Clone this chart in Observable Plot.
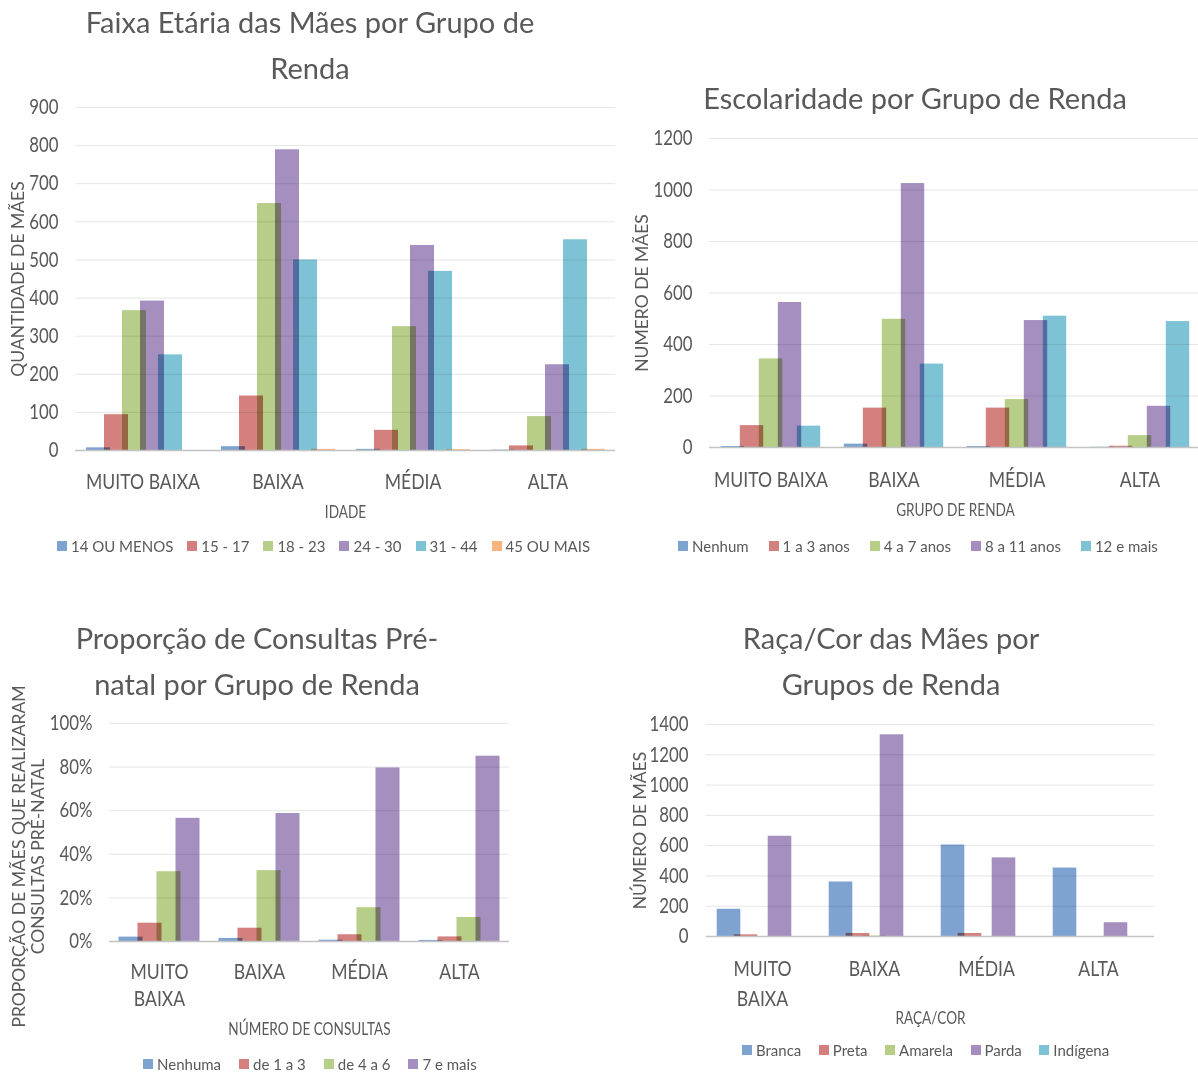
<!DOCTYPE html>
<html><head><meta charset="utf-8">
<script src="https://cdn.jsdelivr.net/npm/d3@7"></script>
<script src="https://cdn.jsdelivr.net/npm/@observablehq/plot@0.6"></script>
<style>
body{margin:0;background:#fff;}
#page{position:relative;width:1198px;height:1075px;overflow:hidden;font-family:Lato,"Open Sans",sans-serif;color:#595959;}
.title{position:absolute;text-align:center;font-size:29px;line-height:46px;color:#595959;white-space:nowrap;width:600px;}
.legend{position:absolute;display:flex;align-items:center;font-size:15px;line-height:20px;white-space:nowrap;color:#595959;}
.legend .it{display:flex;align-items:center;}
.legend .sw{display:inline-block;width:10px;height:10px;margin-right:4px;}
.chart{position:absolute;}
</style></head><body><div id="page"></div>
<script>
// ---- shared categories
const grupos = ["MUITO BAIXA", "BAIXA", "MÉDIA", "ALTA"];
const gruposUmaLinha = ["MUITO BAIXA", "BAIXA", "MÉDIA", "ALTA"];
const gruposDuasLinhas = ["MUITO\nBAIXA", "BAIXA", "MÉDIA", "ALTA"];

// ---- Chart 1: Faixa etária
const faixas = ["14 OU MENOS", "15 - 17", "18 - 23", "24 - 30", "31 - 44", "45 OU MAIS"];
const faixa14ouMenos = [7, 10, 3, 1];
const faixa15a17 = [94, 143, 53, 12];
const faixa18a23 = [367, 648, 325, 89];
const faixa24a30 = [392, 789, 538, 225];
const faixa31a44 = [251, 500, 470, 553];
const faixa45ouMais = [0, 3, 2, 3];
const ticksIdade = [0, 100, 200, 300, 400, 500, 600, 700, 800, 900];

// ---- Chart 2: Escolaridade
const escolaridades = ["Nenhum", "1 a 3 anos", "4 a 7 anos", "8 a 11 anos", "12 e mais"];
const escNenhum = [4, 13, 4, 1];
const esc1a3 = [85, 153, 153, 5];
const esc4a7 = [344, 498, 186, 46];
const esc8a11 = [563, 1025, 493, 160];
const esc12eMais = [83, 324, 510, 489];
const ticksEsc = [0, 200, 400, 600, 800, 1000, 1200];

// ---- Chart 3: Consultas pré-natal (%)
const consultas = ["Nenhuma", "de 1 a 3", "de 4 a 6", "7 e mais"];
const consNenhuma = [2.0, 1.4, 0.6, 0.5];
const cons1a3 = [8.4, 6.1, 3.1, 2.1];
const cons4a6 = [32.0, 32.5, 15.5, 11.0];
const cons7eMais = [56.5, 58.7, 79.6, 85.0];
const ticksCons = [0, 20, 40, 60, 80, 100];

// ---- Chart 4: Raça/Cor
const racas = ["Branca", "Preta", "Amarela", "Parda", "Indígena"];
const racaBranca = [180, 360, 604, 452];
const racaPreta = [11, 20, 20, 0];
const racaAmarela = [0, 3, 0, 0];
const racaParda = [662, 1332, 519, 91];
const racaIndigena = [0, 0, 0, 0];
const ticksRaca = [0, 200, 400, 600, 800, 1000, 1200, 1400];

const cores = ["#7ea3d1", "#d3807e", "#b6ce88", "#a48fbf", "#7ec3d5", "#f9b37d"];
const ink = "#595959";
const page = document.getElementById("page");

function condense(svg, k) {
  svg.querySelectorAll("text").forEach(t => {
    if ((t.getAttribute("transform") || "").includes("rotate")) return;
    const spans = t.querySelectorAll("tspan");
    const targets = spans.length ? Array.from(spans) : [t];
    targets.forEach(el => {
      const len = el.getComputedTextLength();
      if (len > 0) {
        el.setAttribute("textLength", (len * k).toFixed(2));
        el.setAttribute("lengthAdjust", "spacingAndGlyphs");
      }
    });
  });
}

function addTitle(html, cx, top) {
  const d = document.createElement("div");
  d.className = "title";
  d.style.left = (cx - 300) + "px";
  d.style.top = top + "px";
  d.innerHTML = html;
  page.appendChild(d);
}

function addLegend(series, left, cy, gap) {
  const d = document.createElement("div");
  d.className = "legend";
  d.style.left = left + "px";
  d.style.top = (cy - 10) + "px";
  d.style.gap = gap + "px";
  series.forEach((s, i) => {
    const it = document.createElement("span");
    it.className = "it";
    const sw = document.createElement("span");
    sw.className = "sw";
    sw.style.background = cores[i];
    it.appendChild(sw);
    it.appendChild(document.createTextNode(s));
    d.appendChild(it);
  });
  page.appendChild(d);
}

function chart(cfg) {
  const rows = cfg.series.flatMap((s, i) => grupos.map((g, j) => ({group: g, series: s, value: cfg.values[i][j]})));
  const svg = Plot.plot({
    width: cfg.width, height: cfg.height,
    marginLeft: cfg.ml, marginRight: cfg.mr, marginTop: cfg.mt, marginBottom: cfg.mb,
    style: {fontFamily: "Lato, 'Open Sans', sans-serif", color: ink, background: "transparent", overflow: "visible"},
    fx: {domain: grupos, padding: 0},
    x: {domain: cfg.series, paddingInner: 0, paddingOuter: cfg.po, axis: null},
    y: {domain: cfg.yDomain},
    marks: [
      Plot.gridY({ticks: cfg.yTicks, stroke: "#e6e6e6", strokeOpacity: 1}),
      ...cfg.series.map((s, i) => Plot.barY(rows.filter(d => d.series === s), {
        fx: "group", x: "series", y: "value", fill: cores[i],
        insetLeft: cfg.inset, insetRight: cfg.inset, mixBlendMode: "multiply"
      })),
      Plot.ruleY([0], {stroke: "#c3c3c3", strokeWidth: 1.5}),
      Plot.axisY({ticks: cfg.yTicks, tickSize: 0, tickPadding: cfg.ytp, fontSize: 21, tickFormat: cfg.yFormat, label: null, color: ink}),
      Plot.axisFx({anchor: "bottom", tickSize: 0, tickPadding: cfg.fxtp, fontSize: 22, lineHeight: cfg.lh,
        tickFormat: g => cfg.groupLabels[grupos.indexOf(g)], label: null, color: ink}),
      Plot.axisFx({anchor: "bottom", tickSize: 0, tickFormat: () => "", fontSize: 17, label: cfg.xTitle, labelAnchor: "center", labelOffset: cfg.xlo, color: ink}),
      Plot.text([cfg.yTitle], {frameAnchor: "left", facetAnchor: "left", rotate: -90, dx: cfg.ytdx, dy: cfg.ytdy || 0, textAnchor: "middle",
        fontSize: cfg.ytfs, lineHeight: cfg.ytlh, fill: ink})
    ]
  });
  svg.classList.add("chart");
  svg.style.left = cfg.left + "px";
  svg.style.top = cfg.top + "px";
  svg.style.position = "absolute";
  page.appendChild(svg);
  condense(svg, 0.8);
}

// Chart 1
addTitle("Faixa Etária das Mães por Grupo de<br>Renda", 310, -1);
chart({
  left: 0, top: 90, width: 620, height: 440, ml: 75, mr: 5, mt: 17, mb: 80,
  series: faixas, values: [faixa14ouMenos, faixa15a17, faixa18a23, faixa24a30, faixa31a44, faixa45ouMais],
  po: 0.75, inset: -3, yDomain: [0, 900], yTicks: ticksIdade, yFormat: d => String(d),
  ytp: 17, fxtp: 19, lh: 1.23, groupLabels: gruposUmaLinha, xTitle: "IDADE", xlo: 67,
  yTitle: "QUANTIDADE DE MÃES", ytdx: -57, ytfs: 17.5, ytlh: 1
});
addLegend(faixas, 57, 546, 14);

// Chart 2
addTitle("Escolaridade por Grupo de Renda", 915, 75);
chart({
  left: 620, top: 125, width: 582, height: 405, ml: 87, mr: 0, mt: 13, mb: 83,
  series: escolaridades, values: [escNenhum, esc1a3, esc4a7, esc8a11, esc12eMais],
  po: 0.64, inset: -2.2, yDomain: [0, 1200], yTicks: ticksEsc, yFormat: d => String(d),
  ytp: 17, fxtp: 20, lh: 1.23, groupLabels: gruposUmaLinha, xTitle: "GRUPO DE RENDA", xlo: 68,
  yTitle: "NUMERO DE MÃES", ytdx: -67, ytfs: 17.5, ytlh: 1
});
addLegend(escolaridades, 678, 546, 20);

// Chart 3
addTitle("Proporção de Consultas Pré-<br>natal por Grupo de Renda", 257, 615);
chart({
  left: 0, top: 710, width: 520, height: 340, ml: 109, mr: 11, mt: 13, mb: 109,
  series: consultas, values: [consNenhuma, cons1a3, cons4a6, cons7eMais],
  po: 0.63, inset: -2.5, yDomain: [0, 100], yTicks: ticksCons, yFormat: d => d + "%",
  ytp: 17, fxtp: 18, lh: 1.23, groupLabels: gruposDuasLinhas, xTitle: "NÚMERO DE CONSULTAS", xlo: 93,
  yTitle: "PROPORÇÃO DE MÃES QUE REALIZARAM\nCONSULTAS PRÉ-NATAL", ytdx: -81.5, ytdy: 24, ytfs: 17.5, ytlh: 1.1
});
addLegend(consultas, 143, 1064, 18);

// Chart 4
addTitle("Raça/Cor das Mães por<br>Grupos de Renda", 891, 615);
chart({
  left: 620, top: 712, width: 578, height: 325, ml: 86, mr: 44, mt: 12, mb: 101,
  series: racas, values: [racaBranca, racaPreta, racaAmarela, racaParda, racaIndigena],
  po: 0.74, inset: -3.3, yDomain: [0, 1400], yTicks: ticksRaca, yFormat: d => String(d),
  ytp: 18, fxtp: 18, lh: 1.36, groupLabels: gruposDuasLinhas, xTitle: "RAÇA/COR", xlo: 87,
  yTitle: "NÚMERO DE MÃES", ytdx: -66, ytfs: 17.5, ytlh: 1
});
addLegend(racas, 742, 1050, 17.5);
</script></body></html>
